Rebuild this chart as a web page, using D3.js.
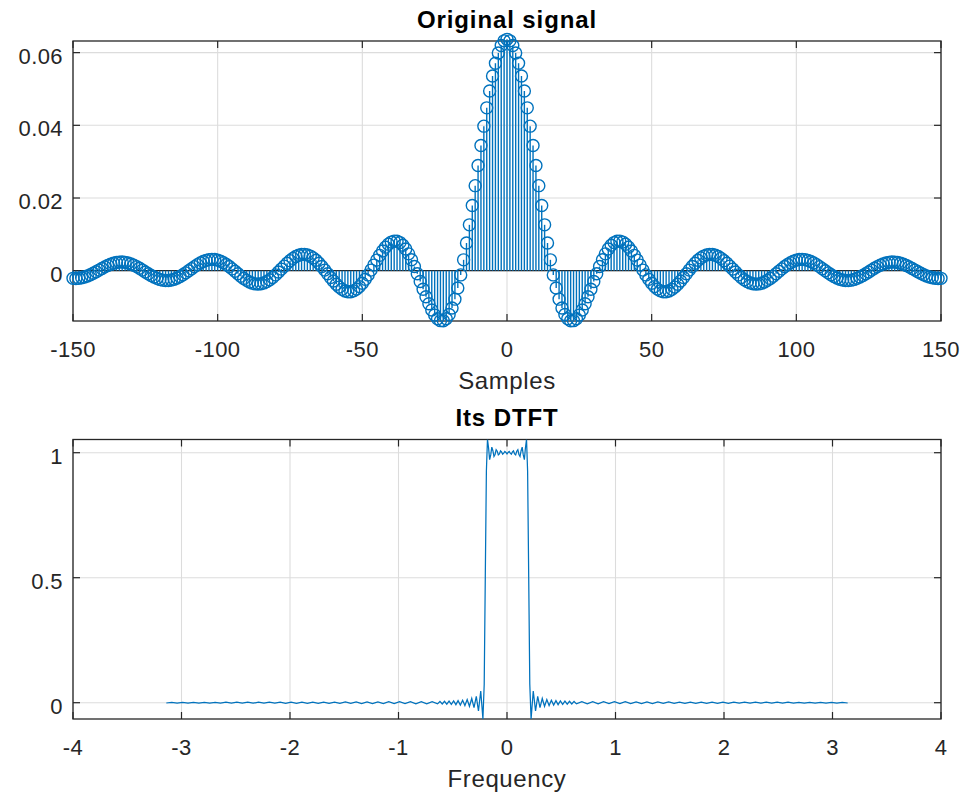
<!DOCTYPE html>
<html>
<head>
<meta charset="utf-8">
<script src="https://cdn.jsdelivr.net/npm/d3@7"></script>
<style>
body { margin: 0; background: #fff; }
text { font-family: "Liberation Sans", Arial, Helvetica, sans-serif; }
</style>
</head>
<body>
<div id="chart"></div>
<script>
// stem values h[n], n = -150 .. 150
var sampleValues = [
  -0.00210, -0.00213, -0.00209, -0.00195, -0.00174, -0.00146, -0.00111, -0.00071, -0.00028, 0.00017,
  0.00062, 0.00105, 0.00144, 0.00178, 0.00206, 0.00226, 0.00236, 0.00238, 0.00230, 0.00213,
  0.00187, 0.00153, 0.00112, 0.00066, 0.00017, -0.00034, -0.00084, -0.00131, -0.00175, -0.00211,
  -0.00240, -0.00260, -0.00270, -0.00269, -0.00257, -0.00234, -0.00202, -0.00161, -0.00113, -0.00059,
  -0.00003, 0.00056, 0.00112, 0.00166, 0.00214, 0.00254, 0.00284, 0.00304, 0.00312, 0.00308,
  0.00291, 0.00262, 0.00222, 0.00172, 0.00114, 0.00050, -0.00017, -0.00085, -0.00150, -0.00212,
  -0.00266, -0.00310, -0.00343, -0.00363, -0.00369, -0.00360, -0.00336, -0.00299, -0.00248, -0.00186,
  -0.00115, -0.00037, 0.00044, 0.00125, 0.00204, 0.00276, 0.00339, 0.00390, 0.00427, 0.00447,
  0.00450, 0.00435, 0.00402, 0.00352, 0.00286, 0.00206, 0.00115, 0.00017, -0.00085, -0.00187,
  -0.00285, -0.00374, -0.00452, -0.00513, -0.00557, -0.00579, -0.00578, -0.00554, -0.00507, -0.00437,
  -0.00346, -0.00238, -0.00116, 0.00017, 0.00154, 0.00292, 0.00423, 0.00544, 0.00648, 0.00730,
  0.00787, 0.00815, 0.00811, 0.00773, 0.00702, 0.00598, 0.00463, 0.00301, 0.00116, -0.00085,
  -0.00296, -0.00510, -0.00718, -0.00911, -0.01082, -0.01221, -0.01321, -0.01375, -0.01377, -0.01321,
  -0.01205, -0.01025, -0.00783, -0.00478, -0.00116, 0.00299, 0.00762, 0.01262, 0.01792, 0.02340,
  0.02894, 0.03444, 0.03977, 0.04481, 0.04945, 0.05357, 0.05709, 0.05991, 0.06198, 0.06324,
  0.06366,
  0.06324, 0.06198, 0.05991, 0.05709, 0.05357, 0.04945, 0.04481, 0.03977, 0.03444, 0.02894,
  0.02340, 0.01792, 0.01262, 0.00762, 0.00299, -0.00116, -0.00478, -0.00783, -0.01025, -0.01205,
  -0.01321, -0.01377, -0.01375, -0.01321, -0.01221, -0.01082, -0.00911, -0.00718, -0.00510, -0.00296,
  -0.00085, 0.00116, 0.00301, 0.00463, 0.00598, 0.00702, 0.00773, 0.00811, 0.00815, 0.00787,
  0.00730, 0.00648, 0.00544, 0.00423, 0.00292, 0.00154, 0.00017, -0.00116, -0.00238, -0.00346,
  -0.00437, -0.00507, -0.00554, -0.00578, -0.00579, -0.00557, -0.00513, -0.00452, -0.00374, -0.00285,
  -0.00187, -0.00085, 0.00017, 0.00115, 0.00206, 0.00286, 0.00352, 0.00402, 0.00435, 0.00450,
  0.00447, 0.00427, 0.00390, 0.00339, 0.00276, 0.00204, 0.00125, 0.00044, -0.00037, -0.00115,
  -0.00186, -0.00248, -0.00299, -0.00336, -0.00360, -0.00369, -0.00363, -0.00343, -0.00310, -0.00266,
  -0.00212, -0.00150, -0.00085, -0.00017, 0.00050, 0.00114, 0.00172, 0.00222, 0.00262, 0.00291,
  0.00308, 0.00312, 0.00304, 0.00284, 0.00254, 0.00214, 0.00166, 0.00112, 0.00056, -0.00003,
  -0.00059, -0.00113, -0.00161, -0.00202, -0.00234, -0.00257, -0.00269, -0.00270, -0.00260, -0.00240,
  -0.00211, -0.00175, -0.00131, -0.00084, -0.00034, 0.00017, 0.00066, 0.00112, 0.00153, 0.00187,
  0.00213, 0.00230, 0.00238, 0.00236, 0.00226, 0.00206, 0.00178, 0.00144, 0.00105, 0.00062,
  0.00017, -0.00028, -0.00071, -0.00111, -0.00146, -0.00174, -0.00195, -0.00209, -0.00213, -0.00210
];

// DTFT curve (frequency in rad/sample, amplitude)
var dtftFreq = [
  -3.14, -3.09, -3.04, -2.99, -2.94, -2.89, -2.84, -2.79, -2.74, -2.69,
  -2.64, -2.59, -2.54, -2.49, -2.44, -2.39, -2.34, -2.29, -2.24, -2.19,
  -2.14, -2.09, -2.04, -1.99, -1.94, -1.89, -1.84, -1.79, -1.74, -1.69,
  -1.64, -1.59, -1.54, -1.49, -1.44, -1.39, -1.34, -1.29, -1.24, -1.19,
  -1.14, -1.09, -1.04, -0.99, -0.94, -0.89, -0.84, -0.79, -0.74, -0.69, -0.64,
  -0.618, -0.597, -0.576, -0.555, -0.534, -0.513, -0.492, -0.471, -0.451, -0.430,
  -0.409, -0.388, -0.367, -0.346, -0.325, -0.304, -0.283, -0.263, -0.242, -0.222,
  -0.21, -0.20, -0.19, -0.18,
  -0.17, -0.16, -0.15, -0.14, -0.13, -0.12, -0.11, -0.10, -0.09, -0.08, -0.07, -0.06,
  -0.05, -0.04, -0.03, -0.02, -0.01, 0.00, 0.01, 0.02, 0.03, 0.04, 0.05,
  0.06, 0.07, 0.08, 0.09, 0.10, 0.11, 0.12, 0.13, 0.14, 0.15, 0.16, 0.17,
  0.18, 0.19, 0.20, 0.21,
  0.222, 0.242, 0.263, 0.283, 0.304, 0.325, 0.346, 0.367, 0.388, 0.409,
  0.430, 0.451, 0.471, 0.492, 0.513, 0.534, 0.555, 0.576, 0.597, 0.618,
  0.64, 0.69, 0.74, 0.79, 0.84, 0.89, 0.94, 0.99, 1.04, 1.09, 1.14,
  1.19, 1.24, 1.29, 1.34, 1.39, 1.44, 1.49, 1.54, 1.59, 1.64,
  1.69, 1.74, 1.79, 1.84, 1.89, 1.94, 1.99, 2.04, 2.09, 2.14,
  2.19, 2.24, 2.29, 2.34, 2.39, 2.44, 2.49, 2.54, 2.59, 2.64,
  2.69, 2.74, 2.79, 2.84, 2.89, 2.94, 2.99, 3.04, 3.09, 3.14
];
var dtftValue = [
  -0.0012, 0.0015, -0.0015, 0.0015, -0.0016, 0.0016, -0.0016, 0.0016, -0.0017, 0.0017,
  -0.0017, 0.0018, -0.0018, 0.0018, -0.0019, 0.0019, -0.0019, 0.0020, -0.0020, 0.0021,
  -0.0021, 0.0022, -0.0022, 0.0023, -0.0023, 0.0024, -0.0024, 0.0025, -0.0025, 0.0026,
  -0.0027, 0.0027, -0.0028, 0.0029, -0.0030, 0.0031, -0.0032, 0.0033, -0.0034, 0.0035,
  -0.0036, 0.0037, -0.0038, 0.0039, -0.0040, 0.0041, -0.0042, 0.0043, -0.0044, 0.0045, -0.0046,
  0.0050, -0.0053, 0.0056, -0.0059, 0.0063, -0.0067, 0.0072, -0.0078, 0.0084, -0.0092,
  0.0101, -0.0112, 0.0126, -0.0144, 0.0168, -0.0201, 0.0250, -0.0331, 0.0470, -0.0650,
  0.075, 0.505, 0.926, 1.053,
  1.020, 0.972, 0.991, 1.022, 1.008, 0.985, 0.993, 1.012, 1.006, 0.991, 0.995, 1.007,
  1.003, 0.994, 0.998, 1.005, 1.001, 0.995, 1.001, 1.005, 0.998, 0.994, 1.003,
  1.007, 0.995, 0.991, 1.006, 1.012, 0.993, 0.985, 1.008, 1.022, 0.991, 0.972, 1.020,
  1.053, 0.926, 0.505, 0.075,
  -0.0650, 0.0470, -0.0331, 0.0250, -0.0201, 0.0168, -0.0144, 0.0126, -0.0112, 0.0101,
  -0.0092, 0.0084, -0.0078, 0.0072, -0.0067, 0.0063, -0.0059, 0.0056, -0.0053, 0.0050,
  -0.0046, 0.0045, -0.0044, 0.0043, -0.0042, 0.0041, -0.0040, 0.0039, -0.0038, 0.0037, -0.0036,
  0.0035, -0.0034, 0.0033, -0.0032, 0.0031, -0.0030, 0.0029, -0.0028, 0.0027, -0.0027,
  0.0026, -0.0025, 0.0025, -0.0024, 0.0024, -0.0023, 0.0023, -0.0022, 0.0022, -0.0021,
  0.0021, -0.0020, 0.0020, -0.0019, 0.0019, -0.0019, 0.0018, -0.0018, 0.0018, -0.0017,
  0.0017, -0.0017, 0.0016, -0.0016, 0.0016, -0.0016, 0.0015, -0.0015, 0.0015, -0.0012
];

var sampleTicksX = [-150, -100, -50, 0, 50, 100, 150];
var sampleTicksY = [0, 0.02, 0.04, 0.06];
var sampleTickLabelsY = ["0", "0.02", "0.04", "0.06"];
var freqTicksX = [-4, -3, -2, -1, 0, 1, 2, 3, 4];
var freqTicksY = [0, 0.5, 1];
var freqTickLabelsY = ["0", "0.5", "1"];

var width = 966, height = 794;
var blue = "#0072BD", ink = "#262626";

var svg = d3.select("#chart").append("svg")
    .attr("width", width)
    .attr("height", height);

// one MATLAB style axes: grid, box, inward ticks on all sides, labels
function drawAxes(x, y, xticks, yticks, ylabels, title, xtitle) {
    var g = svg.append("g");
    var x0 = x.range()[0], x1 = x.range()[1];
    var y0 = y.range()[1], y1 = y.range()[0];

    g.append("rect").attr("x", x0).attr("y", y0)
        .attr("width", x1 - x0).attr("height", y1 - y0).attr("fill", "#fff");

    // grid
    g.selectAll(".gx").data(xticks).enter().append("line")
        .attr("x1", d => x(d)).attr("x2", d => x(d))
        .attr("y1", y0).attr("y2", y1)
        .attr("stroke", "#dcdcdc").attr("stroke-width", 1.1);
    g.selectAll(".gy").data(yticks).enter().append("line")
        .attr("y1", d => y(d)).attr("y2", d => y(d))
        .attr("x1", x0).attr("x2", x1)
        .attr("stroke", "#dcdcdc").attr("stroke-width", 1.1);

    // ticks
    var tl = 7;
    xticks.forEach(function(t) {
        g.append("line").attr("x1", x(t)).attr("x2", x(t)).attr("y1", y1).attr("y2", y1 - tl)
            .attr("stroke", ink).attr("stroke-width", 1.2);
        g.append("line").attr("x1", x(t)).attr("x2", x(t)).attr("y1", y0).attr("y2", y0 + tl)
            .attr("stroke", ink).attr("stroke-width", 1.2);
    });
    yticks.forEach(function(t) {
        g.append("line").attr("y1", y(t)).attr("y2", y(t)).attr("x1", x0).attr("x2", x0 + tl)
            .attr("stroke", ink).attr("stroke-width", 1.2);
        g.append("line").attr("y1", y(t)).attr("y2", y(t)).attr("x1", x1).attr("x2", x1 - tl)
            .attr("stroke", ink).attr("stroke-width", 1.2);
    });

    g.append("rect").attr("x", x0).attr("y", y0)
        .attr("width", x1 - x0).attr("height", y1 - y0)
        .attr("fill", "none").attr("stroke", ink).attr("stroke-width", 1.3);

    // tick labels
    g.selectAll(".tx").data(xticks).enter().append("text")
        .attr("x", d => x(d)).attr("y", y1 + 35.5)
        .attr("text-anchor", "middle")
        .attr("font-size", "22px").attr("letter-spacing", "0.4px")
        .attr("fill", ink)
        .text(d => String(d));
    g.selectAll(".ty").data(yticks).enter().append("text")
        .attr("x", x0 - 10).attr("y", d => y(d) + 11)
        .attr("text-anchor", "end")
        .attr("font-size", "22px").attr("letter-spacing", "0.4px")
        .attr("fill", ink)
        .text((d, i) => ylabels[i]);

    g.append("text")
        .attr("x", (x0 + x1) / 2).attr("y", y1 + 67.5)
        .attr("text-anchor", "middle")
        .attr("font-size", "24px").attr("letter-spacing", "0.6px")
        .attr("fill", ink)
        .text(xtitle);

    g.append("text")
        .attr("x", (x0 + x1) / 2).attr("y", y0 - 13.5)
        .attr("text-anchor", "middle")
        .attr("font-size", "24px").attr("font-weight", "bold").attr("letter-spacing", "0.9px")
        .attr("fill", "#000")
        .text(title);
    return g;
}

// ---- top: stem plot
var xS = d3.scaleLinear().domain([-150, 150]).range([73, 941]);
var yS = d3.scaleLinear().domain([-0.01384, 0.0632]).range([321, 41]);
drawAxes(xS, yS, sampleTicksX, sampleTicksY, sampleTickLabelsY, "Original signal", "Samples");

var sampleIndex = d3.range(-150, 151);
var samples = sampleValues.map((v, i) => ({n: sampleIndex[i], v: v}));

svg.append("line")
    .attr("x1", xS(-150)).attr("x2", xS(150))
    .attr("y1", yS(0)).attr("y2", yS(0))
    .attr("stroke", ink).attr("stroke-width", 1.2);

var stems = svg.append("g");
stems.selectAll("line").data(samples).enter().append("line")
    .attr("x1", d => xS(d.n)).attr("x2", d => xS(d.n))
    .attr("y1", yS(0)).attr("y2", d => yS(d.v))
    .attr("stroke", blue).attr("stroke-width", 1.4);
stems.selectAll("circle").data(samples).enter().append("circle")
    .attr("cx", d => xS(d.n)).attr("cy", d => yS(d.v))
    .attr("r", 6)
    .attr("fill", "none").attr("stroke", blue).attr("stroke-width", 1.4);

// ---- bottom: DTFT
var xF = d3.scaleLinear().domain([-4, 4]).range([73, 941]);
var yF = d3.scaleLinear().domain([-0.0652, 1.0528]).range([719, 439.5]);
drawAxes(xF, yF, freqTicksX, freqTicksY, freqTickLabelsY, "Its DTFT", "Frequency");

svg.append("clipPath").attr("id", "clipF")
    .append("rect").attr("x", 73).attr("y", 439.5).attr("width", 868).attr("height", 279.5);

var dtft = dtftFreq.map((f, i) => ({f: f, v: dtftValue[i]}));
var line = d3.line().x(d => xF(d.f)).y(d => yF(d.v));
svg.append("path")
    .datum(dtft)
    .attr("clip-path", "url(#clipF)")
    .attr("d", line)
    .attr("fill", "none")
    .attr("stroke", blue)
    .attr("stroke-width", 1.25);
</script>
</body>
</html>
